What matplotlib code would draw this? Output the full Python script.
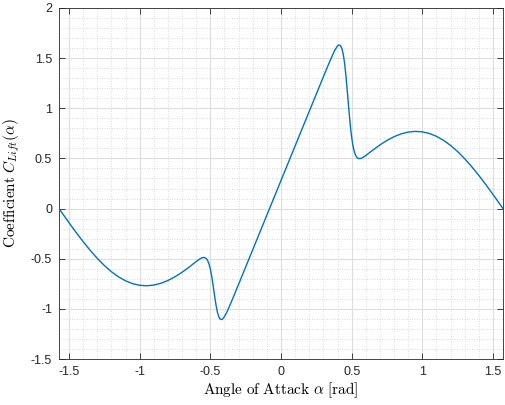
import numpy as np
import matplotlib
matplotlib.use("Agg")
import matplotlib.pyplot as plt
from matplotlib.ticker import MultipleLocator, FixedLocator

# Angle of attack samples [rad] and lift coefficient values
alpha = [
    -1.5708, -1.55, -1.50, -1.45, -1.40, -1.35, -1.30, -1.25, -1.20, -1.15,
    -1.10, -1.05, -1.00, -0.95, -0.90, -0.85, -0.80, -0.75, -0.70, -0.65,
    -0.60, -0.58, -0.57, -0.56, -0.55, -0.54, -0.53, -0.52, -0.51, -0.50,
    -0.49, -0.48, -0.47, -0.46, -0.45, -0.44, -0.43, -0.42, -0.41, -0.40,
    -0.38, -0.35, -0.30, -0.20, -0.10, 0.00, 0.10, 0.20, 0.30, 0.35,
    0.38, 0.40, 0.41, 0.42, 0.43, 0.44, 0.45, 0.46, 0.47, 0.48,
    0.49, 0.50, 0.51, 0.52, 0.53, 0.54, 0.55, 0.56, 0.57, 0.58,
    0.60, 0.65, 0.70, 0.75, 0.80, 0.85, 0.90, 0.95, 1.00, 1.05,
    1.10, 1.15, 1.20, 1.25, 1.30, 1.35, 1.40, 1.45, 1.50, 1.55,
    1.5708,
]
c_lift = [
    0.0, -0.0416, -0.1408, -0.2375, -0.3301, -0.4170, -0.4967, -0.5679, -0.6296, -0.6807,
    -0.7205, -0.7488, -0.7651, -0.7697, -0.7628, -0.7450, -0.7171, -0.6799, -0.6348, -0.5834,
    -0.5283, -0.5077, -0.4988, -0.4918, -0.4878, -0.4885, -0.4966, -0.5155, -0.5496, -0.6029,
    -0.6773, -0.7691, -0.8683, -0.9603, -1.0328, -1.0800, -1.1032, -1.1069, -1.0967, -1.0773,
    -1.0230, -0.9259, -0.755, -0.410, -0.065, 0.280, 0.625, 0.970, 1.315, 1.4845,
    1.5772, 1.6218, 1.6317, 1.6267, 1.5999, 1.5428, 1.4487, 1.3167, 1.1566, 0.9885,
    0.8346, 0.7102, 0.6200, 0.5604, 0.5247, 0.5059, 0.4985, 0.4983, 0.5028, 0.5101,
    0.5292, 0.5834, 0.6348, 0.6799, 0.7171, 0.7450, 0.7628, 0.7697, 0.7651, 0.7488,
    0.7205, 0.6807, 0.6296, 0.5679, 0.4967, 0.4170, 0.3301, 0.2375, 0.1408, 0.0416,
    0.0,
]

x_ticks = [-1.5, -1, -0.5, 0, 0.5, 1, 1.5]
x_tick_labels = ["-1.5", "-1", "-0.5", "0", "0.5", "1", "1.5"]
y_ticks = [-1.5, -1, -0.5, 0, 0.5, 1, 1.5, 2]
y_tick_labels = ["-1.5", "-1", "-0.5", "0", "0.5", "1", "1.5", "2"]

plt.rcParams["mathtext.fontset"] = "cm"
plt.rcParams["font.family"] = ["Liberation Sans", "DejaVu Sans"]

fig = plt.figure(figsize=(5.05, 4.05), dpi=100)
ax = fig.add_axes([59 / 505, 1 - 359 / 405, 444 / 505, 351 / 405])

ax.plot(alpha, c_lift, color="#0072BD", linewidth=1.0, zorder=3)

ax.set_xlim(-np.pi / 2, np.pi / 2)
ax.set_ylim(-1.5, 2)
ax.xaxis.set_major_locator(FixedLocator(x_ticks))
ax.set_xticklabels(x_tick_labels)
ax.yaxis.set_major_locator(FixedLocator(y_ticks))
ax.set_yticklabels(y_tick_labels)
ax.xaxis.set_minor_locator(MultipleLocator(0.1))
ax.yaxis.set_minor_locator(MultipleLocator(0.1))

ax.grid(which="major", color="#dedede", linewidth=0.8, linestyle="-", zorder=0)
ax.grid(which="minor", color="#cfcfcf", linewidth=0.6, linestyle=(0, (1, 2)), zorder=0)
ax.set_axisbelow(True)

ax.tick_params(which="major", direction="in", length=4, width=0.6,
               top=True, right=True, labelsize=9, colors="#262626", pad=5)
ax.tick_params(which="minor", length=0, top=True, right=True)
for sp in ax.spines.values():
    sp.set_color("#262626")
    sp.set_linewidth(0.6)

ax.set_xlabel(r"$\mathrm{Angle\ of\ Attack}\ \alpha\ [\mathrm{rad}]$", fontsize=11, labelpad=2)
ax.set_ylabel(r"$\mathrm{Coefficient}\ C_{Lift}(\alpha)$", fontsize=11, labelpad=6)

fig.savefig("out.png", dpi=100)
